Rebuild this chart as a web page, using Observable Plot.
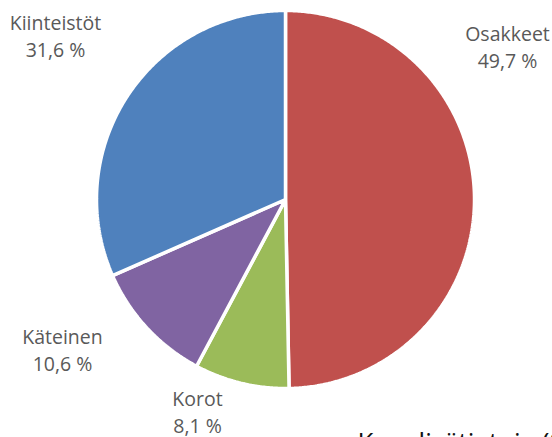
<!DOCTYPE html>
<html><head><meta charset="utf-8">
<script src="https://cdn.jsdelivr.net/npm/d3@7"></script>
<script src="https://cdn.jsdelivr.net/npm/@observablehq/plot@0.6"></script>
<style>
html,body{margin:0;padding:0;background:#fff;overflow:hidden;}
#chart svg{display:block;overflow:visible;}
</style>
</head><body><div id="chart"></div>
<script>
// Data
const categories = ["Osakkeet", "Korot", "Käteinen", "Kiinteistöt"];
const shares = [49.7, 8.1, 10.6, 31.6];
const valueLabels = ["49,7 %", "8,1 %", "10,6 %", "31,6 %"];
const colors = ["#C0504D", "#9BBB59", "#8064A2", "#4F81BD"];
const footerText = "Kysy lisätietoja (09) 123 4567";

// Layout
const W = 552, H = 437;
const cx = 285, cy = 199, R = 189;
// label anchor positions in pixels (layout)
const labelPx = [[507, 34], [197, 399], [62, 337], [55, 23]];
const lineGap = 27;

const pie = d3.pie().sort(null).value(d => d)(shares);
const slicePts = [];
pie.forEach((p, i) => {
  const a0 = p.startAngle, a1 = p.endAngle;
  slicePts.push({name: categories[i], x: 0, y: 0});
  const n = Math.max(2, Math.ceil((a1 - a0) / (Math.PI / 360)));
  for (let k = 0; k <= n; k++) {
    const a = a0 + (a1 - a0) * k / n;
    slicePts.push({name: categories[i], x: Math.sin(a), y: -Math.cos(a)});
  }
});

const toX = px => (px - cx) / R;
const toY = py => (py - cy) / R;
const labels = [];
categories.forEach((c, i) => {
  labels.push({x: toX(labelPx[i][0]), y: toY(labelPx[i][1]), t: c});
  labels.push({x: toX(labelPx[i][0]), y: toY(labelPx[i][1] + lineGap), t: valueLabels[i]});
});

const plot = Plot.plot({
  width: W, height: H,
  margin: 0,
  x: {domain: [toX(0), toX(W)], range: [0, W], axis: null},
  y: {domain: [toY(0), toY(H)], range: [0, H], axis: null},
  color: {domain: categories, range: colors},
  marks: [
    Plot.line(slicePts, {x: "x", y: "y", z: "name", fill: "name", stroke: "white", strokeWidth: 3.5, curve: "linear-closed", strokeLinejoin: "miter"}),
    Plot.text(labels, {x: "x", y: "y", text: "t", fill: "#595959", fontSize: 19.5, fontFamily: "'Open Sans', sans-serif"}),
    Plot.text([footerText], {x: toX(357), y: toY(442), text: d => d, textAnchor: "start", fill: "#111", fontSize: 26, fontFamily: "'Open Sans', sans-serif"})
  ]
});
document.getElementById("chart").appendChild(plot);
</script>
</body></html>
